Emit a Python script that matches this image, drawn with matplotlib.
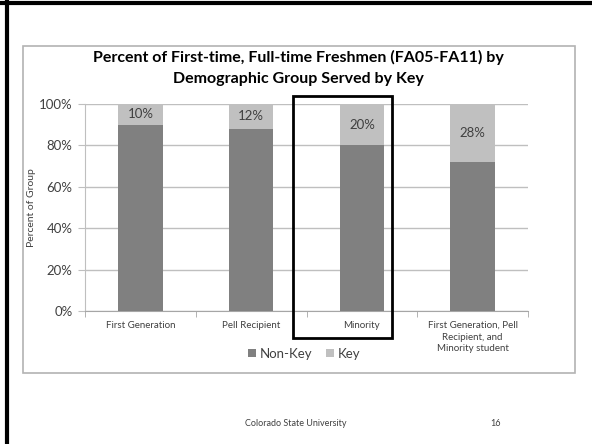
import matplotlib.pyplot as plt
from matplotlib.patches import Rectangle
from matplotlib.lines import Line2D
import numpy as np

categories = ["First Generation", "Pell Recipient", "Minority",
              "First Generation, Pell\nRecipient, and\nMinority student"]
non_key = [90, 88, 80, 72]
key = [10, 12, 20, 28]
key_labels = ["10%", "12%", "20%", "28%"]

W, H = 592, 444
fig = plt.figure(figsize=(W / 100, H / 100), dpi=100)
plt.rcParams['font.family'] = ['Lato', 'DejaVu Sans']

def fx(px):
    return px / W

def fy(py):
    return 1 - py / H

# slide border (left and top)
fig.add_artist(Line2D([fx(7), fx(7)], [0, 1], color='black', lw=3))
fig.add_artist(Line2D([0, 1], [fy(3.5), fy(3.5)], color='black', lw=3))

# chart frame
fig.add_artist(Rectangle((fx(23), fy(373)), fx(575) - fx(23), fy(46) - fy(373),
                         fill=False, edgecolor='#b3b3b3', lw=1.2))

ax = fig.add_axes([fx(85), fy(311), fx(528) - fx(85), fy(104) - fy(311)])
x = np.arange(len(categories))
ax.bar(x, non_key, width=0.4, color='#808080', label='Non-Key', zorder=3)
ax.bar(x, key, width=0.4, bottom=non_key, color='#c0c0c0', label='Key', zorder=3)
for i in range(len(x)):
    ax.text(x[i], non_key[i] + key[i] / 2, key_labels[i], ha='center', va='center',
            fontsize=9.5, color='#404040', zorder=4)

ax.set_xlim(-0.5, len(categories) - 0.5)
ax.set_ylim(0, 100)
ax.set_yticks([0, 20, 40, 60, 80, 100])
ax.set_yticklabels(["0%", "20%", "40%", "60%", "80%", "100%"], fontsize=9.5, color='#404040')
ax.yaxis.grid(True, color='#bfbfbf', lw=1, zorder=0)
ax.set_xticks(x)
ax.set_xticklabels(categories, fontsize=7, color='#404040', va='top', linespacing=1.4)
ax.set_xticks(np.arange(-0.5, len(categories)), minor=True)
ax.tick_params(axis='x', which='major', length=0, pad=7)
ax.tick_params(axis='x', which='minor', length=4, color='#a6a6a6', direction='out')
ax.tick_params(axis='y', length=5, color='#bfbfbf', pad=4)
for s in ['top', 'right']:
    ax.spines[s].set_visible(False)
ax.spines['bottom'].set_color('#a6a6a6')
ax.spines['left'].set_color('#bfbfbf')
ax.set_ylabel("Percent of Group", fontsize=7.5, color='#404040', labelpad=2)

fig.text(fx(298), fy(57), "Percent of First-time, Full-time Freshmen (FA05-FA11) by",
         ha='center', va='center', fontsize=11.5, fontweight='bold', color='black')
fig.text(fx(298), fy(79), "Demographic Group Served by Key",
         ha='center', va='center', fontsize=11.5, fontweight='bold', color='black')

ax.legend(loc='upper center', bbox_to_anchor=(0.495, -0.12), ncol=2, frameon=False,
          fontsize=9.5, handlelength=0.6, handleheight=0.6, handletextpad=0.3,
          columnspacing=1.0, labelcolor='#404040')

# highlight box around Minority
fig.add_artist(Rectangle((fx(293), fy(338)), fx(392) - fx(293), fy(96) - fy(338),
                         fill=False, edgecolor='black', lw=2, zorder=10))

fig.text(fx(296), fy(423), "Colorado State University", ha='center', va='center',
         fontsize=6.5, color='#404040')
fig.text(fx(496), fy(423), "16", ha='center', va='center', fontsize=6.5, color='#404040')

fig.savefig("out.png", dpi=100)
